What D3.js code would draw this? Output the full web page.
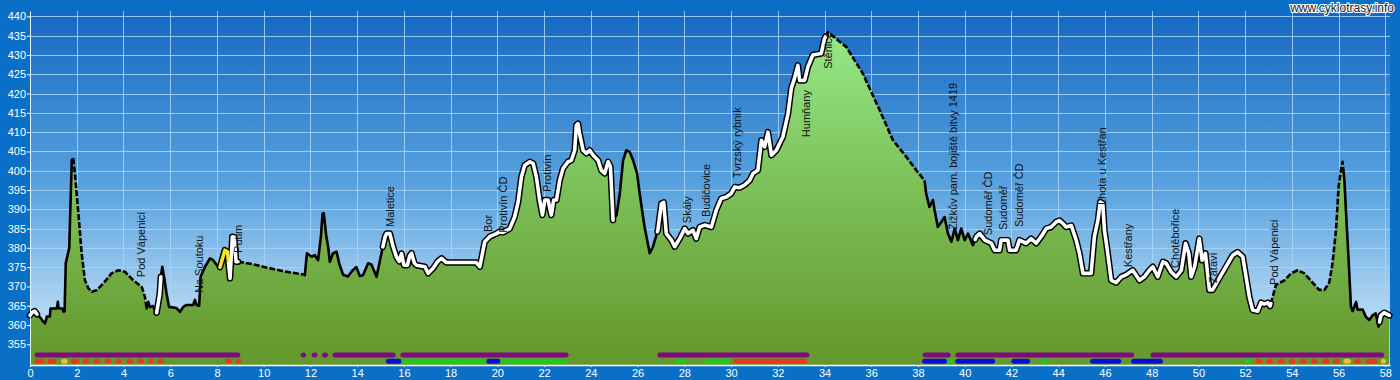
<!DOCTYPE html>
<html><head><meta charset="utf-8">
<script src="https://cdn.jsdelivr.net/npm/d3@7"></script>
<style>body{margin:0;background:#0a6fc7;overflow:hidden} svg{display:block}</style>
</head><body><svg id="c" width="1400" height="380"></svg>
<script>
// ---- data ----
const km = [0.00,0.10,0.20,0.30,0.43,0.55,0.64,0.70,0.72,0.85,0.88,1.05,1.15,1.19,1.23,1.38,1.43,1.48,1.53,1.68,1.75,1.79,1.85,1.92,2.07,2.21,2.35,2.50,2.64,2.85,3.14,3.49,3.78,4.06,4.42,4.78,4.92,4.99,5.06,5.13,5.27,5.36,5.42,5.55,5.60,5.66,5.75,5.84,5.95,6.27,6.42,6.56,6.70,6.98,7.06,7.13,7.24,7.30,7.49,7.70,7.84,8.05,8.13,8.34,8.45,8.56,8.66,8.74,8.82,8.95,9.50,10.20,10.80,11.69,11.76,11.85,12.05,12.19,12.33,12.45,12.52,12.57,12.68,12.76,12.83,12.97,13.12,13.23,13.40,13.47,13.61,13.78,13.90,13.97,14.11,14.25,14.47,14.61,14.83,15.04,15.20,15.26,15.40,15.54,15.68,15.80,15.90,16.00,16.15,16.25,16.33,16.45,16.54,16.90,17.04,17.25,17.45,17.61,17.82,19.10,19.25,19.46,19.67,19.96,20.10,20.24,20.53,20.74,20.89,21.03,21.17,21.39,21.53,21.67,21.81,21.93,22.03,22.17,22.31,22.41,22.53,22.67,22.81,23.02,23.17,23.31,23.38,23.45,23.52,23.67,23.81,23.95,24.10,24.31,24.45,24.59,24.74,24.84,24.95,25.10,25.24,25.38,25.52,25.66,25.81,25.98,26.09,26.30,26.52,26.66,26.87,27.02,27.12,27.23,27.45,27.59,27.80,28.02,28.16,28.37,28.51,28.66,28.87,29.16,29.37,29.58,29.80,30.01,30.16,30.37,30.58,30.80,30.94,31.15,31.30,31.44,31.58,31.73,31.94,32.22,32.44,32.58,32.72,32.86,32.94,33.15,33.29,33.50,33.86,34.00,34.15,34.93,35.64,36.36,36.93,37.50,37.93,38.28,38.35,38.49,38.64,38.71,38.85,39.00,39.14,39.28,39.43,39.57,39.71,39.85,40.00,40.14,40.35,40.50,40.64,40.86,41.14,41.28,41.49,41.56,41.85,41.92,42.20,42.34,42.63,42.84,43.06,43.27,43.49,43.70,43.91,44.06,44.20,44.34,44.56,44.77,44.91,45.06,45.41,45.55,45.70,45.80,45.91,45.98,46.12,46.27,46.48,46.70,46.90,47.19,47.48,47.69,47.90,48.05,48.26,48.48,48.62,48.84,49.05,49.27,49.45,49.59,49.69,49.84,50.04,50.16,50.30,50.47,50.61,50.90,51.18,51.47,51.68,51.90,52.04,52.18,52.32,52.54,52.68,52.82,52.97,53.07,53.18,53.32,53.68,53.97,54.25,54.53,54.89,55.17,55.39,55.60,55.74,55.89,56.00,56.10,56.17,56.25,56.32,56.43,56.53,56.60,56.75,56.81,57.03,57.17,57.31,57.45,57.59,57.71,57.81,57.95,58.17];
const elev = [362.5,363.3,363.6,362.8,362.0,361.0,360.4,361.6,362.2,362.2,364.3,364.3,364.3,366.0,364.3,364.3,363.5,363.5,376.0,380.0,395.0,402.8,403.2,399.3,389.0,378.6,371.6,369.5,368.6,369.0,370.8,373.4,374.2,373.8,371.6,369.9,367.3,364.3,366.0,364.7,364.9,363.4,363.2,368.0,372.5,375.1,372.0,368.3,364.7,364.4,363.4,364.7,365.2,365.2,366.5,365.2,365.0,372.5,375.1,377.3,376.8,375.1,375.0,379.4,379.0,372.1,382.9,382.8,376.4,376.4,375.8,374.8,374.0,373.1,372.9,378.6,377.7,378.1,376.8,383.0,388.9,389.0,383.0,380.3,376.4,378.6,379.0,376.0,373.0,372.9,372.6,374.0,374.7,375.0,372.7,372.9,376.0,375.7,372.5,378.6,383.0,383.7,383.7,380.3,377.7,376.5,378.5,375.5,375.5,378.0,378.6,376.0,375.5,375.1,373.4,374.7,376.5,377.3,376.2,376.2,375.1,381.6,382.9,383.7,384.2,384.0,385.0,388.0,391.9,398.4,401.4,402.3,401.9,398.4,392.4,388.5,392.4,392.4,388.5,392.4,392.4,397.5,400.6,402.3,402.7,405.3,411.8,412.2,409.6,405.3,404.5,405.3,404.0,402.7,400.1,399.3,402.3,401.0,387.2,388.5,394.1,402.7,405.3,404.9,402.7,399.3,394.1,385.4,378.6,380.3,384.6,391.5,391.8,383.7,382.0,380.3,382.4,385.0,383.7,384.6,382.4,385.4,385.9,385.4,389.8,392.8,393.2,394.1,395.8,395.6,396.3,397.5,399.3,400.1,407.9,406.2,410.0,404.0,405.3,408.8,414.8,421.4,424.0,427.3,423.4,423.4,426.9,430.0,430.4,434.2,435.9,432.1,425.2,415.7,407.9,403.6,400.1,397.5,394.1,390.6,392.4,389.8,385.4,386.7,388.0,383.7,381.6,385.0,382.0,385.0,382.0,383.7,380.7,382.9,383.7,382.0,381.2,379.4,379.4,382.0,382.0,379.4,379.4,382.0,381.2,382.4,381.2,382.9,385.0,385.4,386.7,387.1,386.3,385.4,385.8,382.0,378.6,373.4,373.4,382.9,387.1,391.9,391.5,384.6,378.6,371.6,371.0,372.5,373.0,374.2,371.6,372.5,374.2,375.1,372.5,376.4,376.0,373.7,372.5,374.2,381.2,378.6,372.5,375.1,382.4,376.8,378.6,369.1,369.1,372.2,375.1,378.1,378.9,377.7,372.5,367.3,363.9,363.6,365.8,365.4,365.8,364.9,367.3,370.4,371.6,373.4,374.2,373.4,371.0,369.1,369.1,371.0,376.0,384.6,395.8,400.1,402.3,397.5,388.9,376.8,364.7,363.6,366.0,364.0,364.0,362.1,361.3,362.5,363.0,359.6,362.5,363.2,362.5];

// line style of route parts: w = white, b = black, d = dashed, y = yellow
const lineSegs = [[0,0.3,'w'],[0.3,1.85,'b'],[1.85,4.95,'d'],[4.95,5.42,'b'],[5.42,5.6,'w'],[5.6,8.13,'b'],[8.13,8.5,'y'],[8.5,8.9,'w'],[8.9,11.72,'d'],[11.72,15.1,'b'],[15.1,24.95,'w'],[24.95,26.85,'b'],[26.85,34.05,'w'],[34.05,38.3,'d'],[38.3,40.45,'b'],[40.45,53.1,'w'],[53.1,56.2,'d'],[56.2,57.75,'b'],[57.75,58.17,'w']];

// place names, their km and the elevation where the text starts
const placeNames = ["Pod Vápenicí","Na Soutoku","Putim","Maletice","Bor","Protivín ČD","Protivín","Skály","Budičovice","Tvrzský rybník","Humňany","Stěnice","Žižkův pam. bojiště bitvy 1419","Sudoměř ČD","Sudoměř","Sudoměř ČD","Lhota u Kestřan","Kestřany","Chotěbořice","Zátaví","Pod Vápenicí"];
const placeKm = [4.75,7.23,8.9,15.4,19.6,20.24,22.12,28.11,28.93,30.25,33.2,34.15,39.5,41.0,41.63,42.32,45.87,46.98,49.0,50.62,53.23];
const placeElev = [372.4,368.3,378.7,385.4,384.1,383.9,394.5,386.4,388.0,398.1,408.7,426.4,384.6,383.3,384.6,385.4,391.1,375.0,374.8,370.9,370.4];

// route bands
const band1 = [[0.2,9.0],[11.6,11.8],[12.05,12.3],[12.5,12.75],[12.95,15.65],[15.85,23.05],[26.85,33.35],[38.2,39.4],[39.6,47.25],[47.95,57.95]];
const band2 = [[0.18,0.64,'r'],[0.76,1.11,'r'],[1.33,1.61,'o'],[1.75,2.11,'r'],[2.25,2.54,'r'],[2.71,2.99,'r'],[3.18,3.49,'r'],[3.65,3.92,'r'],[4.13,4.42,'r'],[4.59,4.88,'r'],[5.06,5.27,'r'],[5.45,5.73,'r'],[8.34,8.65,'r'],[8.81,8.95,'r'],[15.23,15.9,'b'],[15.9,19.53,'g'],[19.53,20.13,'b'],[20.13,23.0,'g'],[27.6,28.1,'g'],[28.87,29.97,'g'],[30.11,33.26,'r'],[38.18,39.24,'b'],[39.24,39.55,'g'],[39.6,41.3,'b'],[42.0,42.8,'b'],[43.27,43.53,'g'],[45.37,46.7,'b'],[47.12,48.48,'b'],[51.97,52.3,'g'],[52.44,52.75,'r'],[52.9,53.2,'r'],[53.4,53.7,'r'],[53.86,54.15,'r'],[54.32,54.63,'r'],[54.82,55.1,'r'],[55.29,55.6,'r'],[55.75,56.06,'r'],[56.2,56.53,'o'],[56.67,56.96,'r'],[57.14,57.67,'r'],[57.81,58.0,'o']];

const xTicks = d3.range(0, 59, 2);
const yTicks = d3.range(355, 441, 5);

// ---- drawing ----
const svg = d3.select('#c');
const x = d3.scaleLinear([0, 58.2], [30, 1390]);
const y = d3.scaleLinear([350, 441.4], [363.6, 11]);
const pts = km.map((k, i) => [k, elev[i]]);
const FONT = '"Liberation Sans", Arial, sans-serif';

const defs = svg.append('defs');
const bg = defs.append('linearGradient').attr('id','bg').attr('x1',0).attr('y1',0).attr('x2',0).attr('y2',1);
bg.append('stop').attr('offset','0').attr('stop-color','#1467c2');
bg.append('stop').attr('offset','0.5').attr('stop-color','#5aa3df');
bg.append('stop').attr('offset','1').attr('stop-color','#d8edfa');
const gg = defs.append('linearGradient').attr('id','gg').attr('gradientUnits','userSpaceOnUse')
  .attr('x1',0).attr('x2',0).attr('y1',y(436)).attr('y2',y(350));
gg.append('stop').attr('offset','0').attr('stop-color','#95e987');
gg.append('stop').attr('offset','0.45').attr('stop-color','#7dc25a');
gg.append('stop').attr('offset','1').attr('stop-color','#64972c');

svg.append('rect').attr('width',1400).attr('height',380).attr('fill','#0a6fc7');
svg.append('rect').attr('x',x(0)).attr('y',11).attr('width',x(58.2)-x(0)).attr('height',365-11).attr('fill','url(#bg)');

// grid
const grid = svg.append('g').attr('stroke','#a6d6fb').attr('stroke-opacity',0.85).attr('stroke-width',1);
grid.selectAll('.gv').data(xTicks.filter(d=>d>0)).join('line')
  .attr('x1',d=>Math.round(x(d))+0.5).attr('x2',d=>Math.round(x(d))+0.5).attr('y1',11).attr('y2',y(350));
grid.selectAll('.gh').data(yTicks).join('line')
  .attr('y1',d=>Math.round(y(d))+0.5).attr('y2',d=>Math.round(y(d))+0.5).attr('x1',x(0)).attr('x2',x(58.2));

// area
const area = d3.area().x(d=>x(d[0])).y0(365).y1(d=>y(d[1]));
svg.append('path').datum(pts).attr('d',area).attr('fill','url(#gg)');

// route line parts
function interp(k){
  const i = d3.bisector(d=>d[0]).left(pts, k);
  if (i<=0) return pts[0][1];
  if (i>=pts.length) return pts[pts.length-1][1];
  const a = pts[i-1], b = pts[i];
  return a[1] + (b[1]-a[1]) * (k-a[0])/(b[0]-a[0]);
}
function part(a,b){
  const r = [[a, interp(a)]];
  pts.forEach(p => { if (p[0]>a && p[0]<b) r.push(p); });
  r.push([b, interp(b)]);
  return r;
}
const line = d3.line().x(d=>x(d[0])).y(d=>y(d[1]));
const lg = svg.append('g').attr('fill','none').attr('stroke-linejoin','round');
lineSegs.filter(s=>s[2]==='b'||s[2]==='d').forEach(s=>{
  lg.append('path').attr('d', line(part(s[0],s[1]))).attr('stroke','#000').attr('stroke-width',2.6)
    .attr('stroke-dasharray', s[2]==='d' ? '6,2' : null);
});
lineSegs.filter(s=>s[2]==='w'||s[2]==='y').forEach(s=>{
  lg.append('path').attr('d', line(part(s[0],s[1]))).attr('stroke','#000').attr('stroke-width',6.5).attr('stroke-linecap','round');
});
lineSegs.filter(s=>s[2]==='w'||s[2]==='y').forEach(s=>{
  lg.append('path').attr('d', line(part(s[0],s[1]))).attr('stroke', s[2]==='w' ? '#fff' : '#f3e52a').attr('stroke-width',3.6).attr('stroke-linecap','round');
});

// bands
const bandColor = {r:'#e8381f', o:'#f7bb33', b:'#0c0cd6', g:'#1fc81f'};
const bg1 = svg.append('g').attr('stroke-linecap','round').attr('stroke-width',5);
bg1.selectAll('line').data(band1).join('line')
  .attr('x1',d=>x(d[0])+2.5).attr('x2',d=>x(d[1])-2.5).attr('y1',355).attr('y2',355).attr('stroke','#800a80');
const bg2 = svg.append('g').attr('stroke-linecap','round').attr('stroke-width',5);
bg2.selectAll('line').data(band2).join('line')
  .attr('x1',d=>x(d[0])+2.5).attr('x2',d=>Math.max(x(d[0])+2.6, x(d[1])-2.5)).attr('y1',361.2).attr('y2',361.2).attr('stroke',d=>bandColor[d[2]]);

// place labels
svg.append('g').selectAll('text').data(placeNames).join('text')
  .attr('transform',(d,i)=>`translate(${x(placeKm[i])+4},${y(placeElev[i])}) rotate(-90)`)
  .attr('font-family',FONT).attr('font-size',11).attr('fill','#111')
  .text(d=>d);

// axes
const yAxis = svg.append('g').attr('transform',`translate(${x(0)},0)`)
  .call(d3.axisLeft(y).tickValues(yTicks).tickFormat(d3.format('d')).tickSizeInner(3).tickSizeOuter(0).tickPadding(1));
yAxis.select('.domain').attr('stroke','#e8f4ff').attr('stroke-width',1);
yAxis.selectAll('.tick line').attr('stroke','#fff');
yAxis.selectAll('text').attr('fill','#fff').attr('font-size',11).attr('font-family',FONT);

const xAxis = svg.append('g').attr('transform',`translate(0,365)`)
  .call(d3.axisBottom(x).tickValues(xTicks).tickFormat(d3.format('d')).tickSizeInner(2).tickSizeOuter(0).tickPadding(2));
xAxis.select('.domain').attr('stroke','#fff').attr('stroke-width',1.6);
xAxis.selectAll('.tick line').attr('stroke','#fff');
xAxis.selectAll('text').attr('fill','#fff').attr('font-size',11).attr('font-family',FONT);

// watermark
svg.append('text').attr('x',1394).attr('y',12).attr('text-anchor','end')
  .attr('font-family',FONT).attr('font-size',12)
  .attr('fill','#222').attr('stroke','#fff').attr('stroke-width',2.2).attr('paint-order','stroke')
  .text('www.cyklotrasy.info');
</script></body></html>
